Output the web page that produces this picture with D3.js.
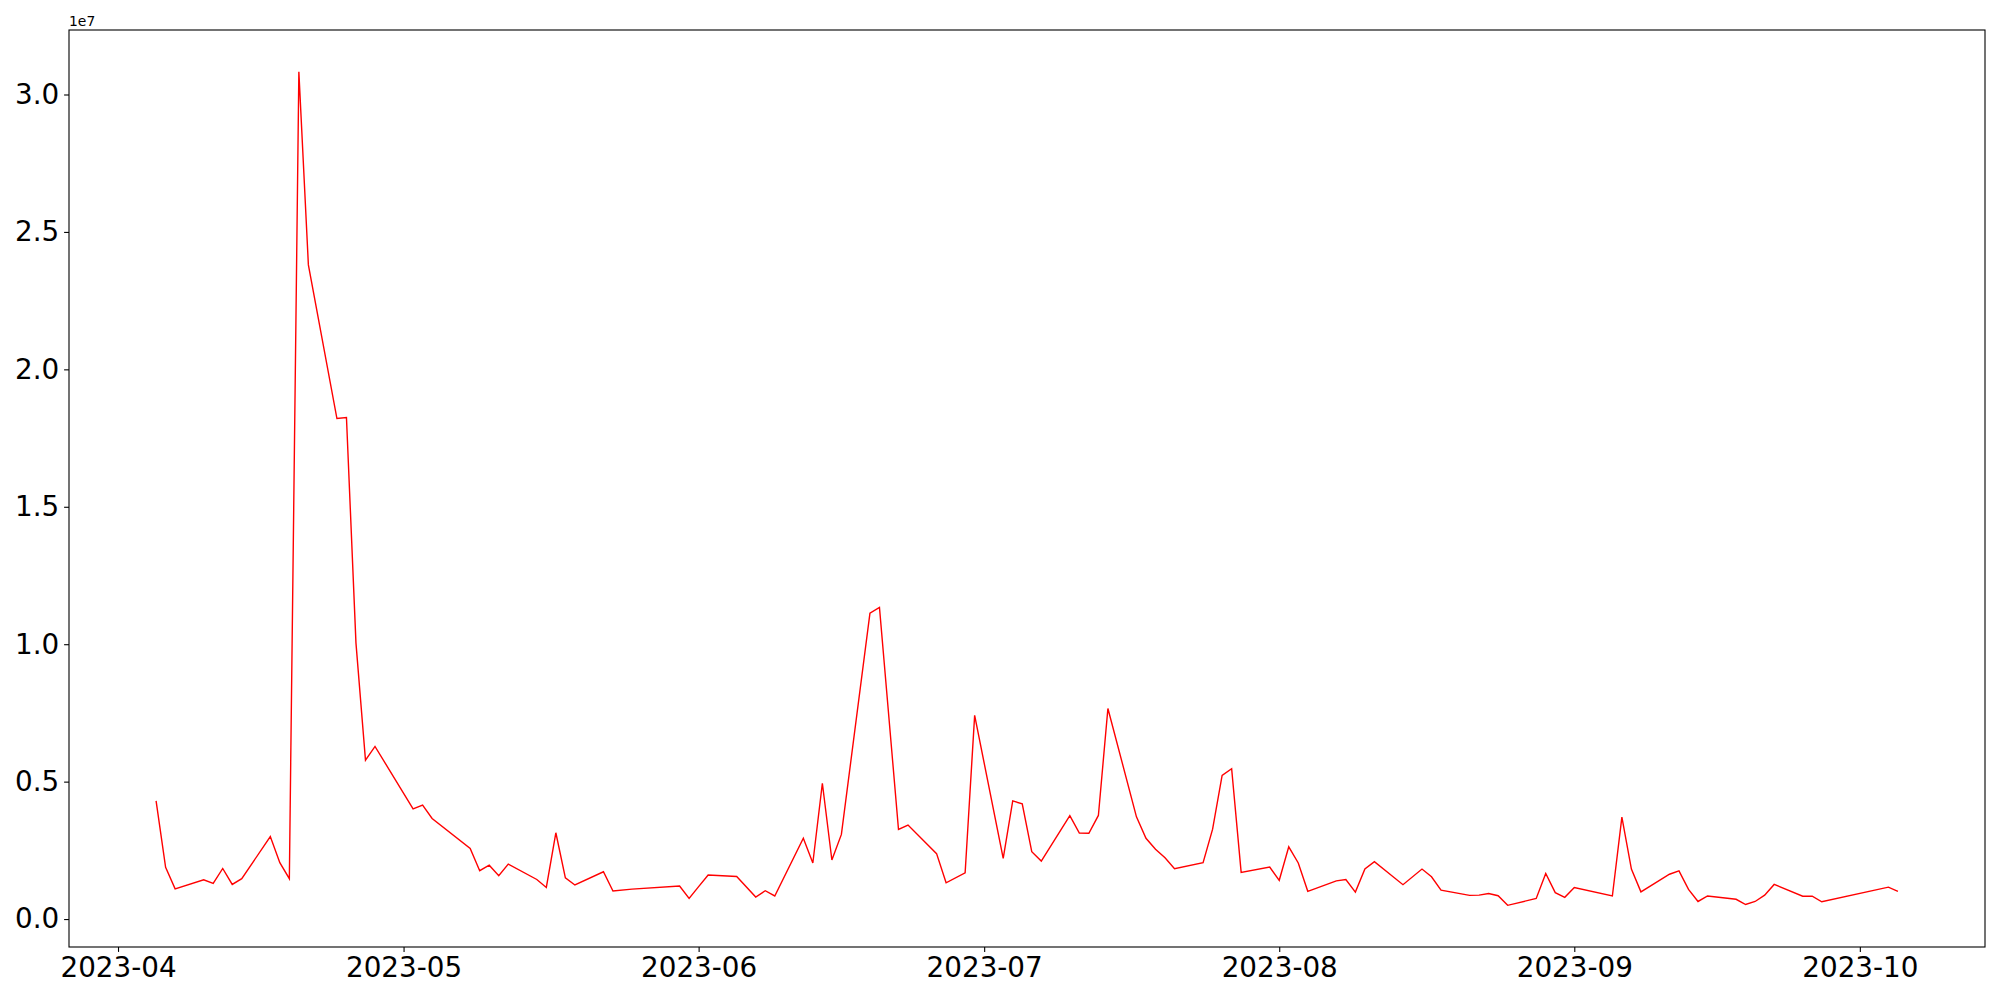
<!DOCTYPE html>
<html>
<head>
<meta charset="utf-8">
<script src="https://cdn.jsdelivr.net/npm/d3@7"></script>
<style>
  body { margin: 0; background: #fff; }
  svg { display: block; }
  text { font-family: "DejaVu Sans", sans-serif; }
</style>
</head>
<body>
<svg id="chart" width="2000" height="1000"></svg>
<script>
// trading days and values
const dates = [
  "2023-04-05","2023-04-06","2023-04-07","2023-04-10","2023-04-11","2023-04-12","2023-04-13","2023-04-14",
  "2023-04-17","2023-04-18","2023-04-19","2023-04-20","2023-04-21","2023-04-24","2023-04-25","2023-04-26",
  "2023-04-27","2023-04-28","2023-05-02","2023-05-03","2023-05-04","2023-05-08","2023-05-09","2023-05-10",
  "2023-05-11","2023-05-12","2023-05-15","2023-05-16","2023-05-17","2023-05-18","2023-05-19","2023-05-22",
  "2023-05-23","2023-05-25","2023-05-30","2023-05-31","2023-06-01","2023-06-02","2023-06-05","2023-06-07",
  "2023-06-08","2023-06-09","2023-06-12","2023-06-13","2023-06-14","2023-06-15","2023-06-16","2023-06-19",
  "2023-06-20","2023-06-22","2023-06-23","2023-06-26","2023-06-27","2023-06-29","2023-06-30","2023-07-03",
  "2023-07-04","2023-07-05","2023-07-06","2023-07-07","2023-07-10","2023-07-11","2023-07-12","2023-07-13",
  "2023-07-14","2023-07-17","2023-07-18","2023-07-19","2023-07-20","2023-07-21","2023-07-24","2023-07-25",
  "2023-07-26","2023-07-27","2023-07-28","2023-07-31","2023-08-01","2023-08-02","2023-08-03","2023-08-04",
  "2023-08-07","2023-08-08","2023-08-09","2023-08-10","2023-08-11","2023-08-14","2023-08-16","2023-08-17",
  "2023-08-18","2023-08-21","2023-08-22","2023-08-23","2023-08-24","2023-08-25","2023-08-28","2023-08-29",
  "2023-08-30","2023-08-31","2023-09-01","2023-09-05","2023-09-06","2023-09-07","2023-09-08","2023-09-11",
  "2023-09-12","2023-09-13","2023-09-14","2023-09-15","2023-09-18","2023-09-19","2023-09-20","2023-09-21",
  "2023-09-22","2023-09-25","2023-09-26","2023-09-27","2023-10-04","2023-10-05"
];
const values = [
  4.30e6, 1.88e6, 1.10e6, 1.43e6, 1.30e6, 1.84e6, 1.26e6, 1.47e6,
  3.00e6, 2.05e6, 1.47e6, 30.83e6, 23.8e6, 18.21e6, 18.25e6, 10.04e6,
  5.78e6, 6.28e6, 4.01e6, 4.15e6, 3.66e6, 2.57e6, 1.76e6, 1.96e6,
  1.58e6, 2.00e6, 1.44e6, 1.15e6, 3.14e6, 1.50e6, 1.24e6, 1.72e6,
  1.02e6, 1.09e6, 1.20e6, 0.75e6, 1.18e6, 1.60e6, 1.55e6, 0.80e6,
  1.03e6, 0.84e6, 2.94e6, 2.04e6, 4.94e6, 2.15e6, 3.08e6, 11.13e6,
  11.34e6, 3.26e6, 3.42e6, 2.38e6, 1.32e6, 1.68e6, 7.41e6, 2.21e6,
  4.30e6, 4.19e6, 2.45e6, 2.11e6, 3.76e6, 3.13e6, 3.12e6, 3.77e6,
  7.66e6, 3.72e6, 2.94e6, 2.54e6, 2.23e6, 1.83e6, 2.05e6, 3.27e6,
  5.23e6, 5.47e6, 1.70e6, 1.89e6, 1.41e6, 2.63e6, 2.04e6, 1.01e6,
  1.39e6, 1.44e6, 0.98e6, 1.82e6, 2.09e6, 1.25e6, 1.82e6, 1.54e6,
  1.05e6, 0.86e6, 0.87e6, 0.93e6, 0.85e6, 0.50e6, 0.75e6, 1.66e6,
  0.96e6, 0.79e6, 1.15e6, 0.84e6, 3.71e6, 1.82e6, 0.99e6, 1.63e6,
  1.75e6, 1.08e6, 0.64e6, 0.84e6, 0.72e6, 0.53e6, 0.64e6, 0.87e6,
  1.26e6, 0.83e6, 0.83e6, 0.63e6, 1.16e6, 1.01e6
];
const xTickLabels = ["2023-04","2023-05","2023-06","2023-07","2023-08","2023-09","2023-10"];
const yTicks = [0, 0.5e7, 1.0e7, 1.5e7, 2.0e7, 2.5e7, 3.0e7];

const margin = { left: 69, right: 1985, top: 30, bottom: 947 };
const parse = d3.utcParse("%Y-%m-%d");
const points = dates.map((d, i) => ({ date: parse(d), value: values[i] }));

// matplotlib style 5% margins
const xExt = d3.extent(points, d => d.date);
const xPad = (xExt[1] - xExt[0]) * 0.05;
const yExt = d3.extent(values);
const yPad = (yExt[1] - yExt[0]) * 0.05;

const x = d3.scaleUtc()
  .domain([new Date(+xExt[0] - xPad), new Date(+xExt[1] + xPad)])
  .range([margin.left, margin.right]);
const y = d3.scaleLinear()
  .domain([yExt[0] - yPad, yExt[1] + yPad])
  .range([margin.bottom, margin.top]);

const svg = d3.select("#chart");
svg.append("rect").attr("width", 2000).attr("height", 1000).attr("fill", "#fff");

svg.append("path")
  .datum(points)
  .attr("fill", "none")
  .attr("stroke", "#ff0000")
  .attr("stroke-width", 1.4)
  .attr("stroke-linejoin", "miter")
  .attr("d", d3.line().x(d => x(d.date)).y(d => y(d.value)));

const xAxis = svg.append("g")
  .attr("transform", `translate(0,${margin.bottom})`)
  .call(d3.axisBottom(x)
    .tickValues(xTickLabels.map(s => d3.utcParse("%Y-%m")(s)))
    .tickFormat(d3.utcFormat("%Y-%m"))
    .tickSize(4.9)
    .tickPadding(4.9));

const yAxis = svg.append("g")
  .attr("transform", `translate(${margin.left},0)`)
  .call(d3.axisLeft(y)
    .tickValues(yTicks)
    .tickFormat(d => (d / 1e7).toFixed(1))
    .tickSize(4.9)
    .tickPadding(4.9));

[xAxis, yAxis].forEach(g => {
  g.select(".domain").remove();
  g.selectAll(".tick line").attr("stroke", "#000").attr("stroke-width", 1.1);
  g.selectAll(".tick text")
    .attr("fill", "#000")
    .style("font-family", "'DejaVu Sans', sans-serif")
    .style("font-size", "27.8px");
});

svg.append("rect")
  .attr("x", margin.left).attr("y", margin.top)
  .attr("width", margin.right - margin.left).attr("height", margin.bottom - margin.top)
  .attr("fill", "none")
  .attr("stroke", "#000")
  .attr("stroke-width", 1.1);

svg.append("text")
  .attr("x", margin.left)
  .attr("y", margin.top - 4)
  .style("font-size", "13.9px")
  .attr("fill", "#000")
  .text("1e7");
</script>
</body>
</html>
